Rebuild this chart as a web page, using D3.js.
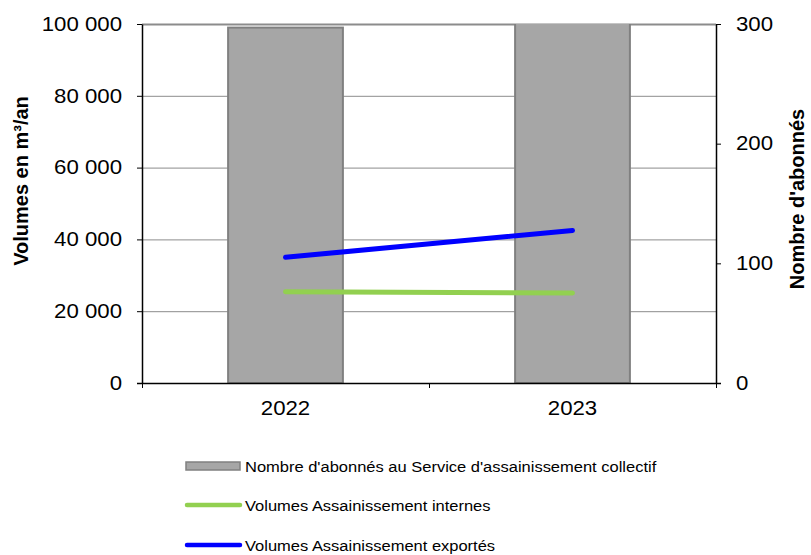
<!DOCTYPE html>
<html>
<head>
<meta charset="utf-8">
<script src="https://cdn.jsdelivr.net/npm/d3@7"></script>
<style>
  html, body { margin: 0; padding: 0; background: #fff; }
  svg { display: block; font-family: "Liberation Sans", Arial, sans-serif; }
</style>
</head>
<body>
<svg id="chart" width="811" height="555"></svg>
<script>
// Years on the category axis
const years = ["2022", "2023"];
// Subscribers to the collective sanitation service (right axis)
const subscribers = [297, 305];
// Internal sanitation volumes, m³/year (left axis)
const internalVolumes = [25400, 25100];
// Exported sanitation volumes, m³/year (left axis)
const exportedVolumes = [35000, 42500];
// Tick values
const leftTicks = [0, 20000, 40000, 60000, 80000, 100000];
const rightTicks = [0, 100, 200, 300];
// Legend entries
const legendLabels = [
  "Nombre d'abonnés au Service d'assainissement collectif",
  "Volumes Assainissement internes",
  "Volumes Assainissement exportés"
];

const svg = d3.select("#chart");
const plot = { left: 142, right: 716, top: 24, bottom: 383 };
const stretch = 1.14;

const x = d3.scaleBand().domain(years).range([plot.left, plot.right])
  .paddingInner(0.6).paddingOuter(0.3);
const xEdges = d3.scaleLinear().domain([0, years.length]).range([plot.left, plot.right]);
const yLeft = d3.scaleLinear().domain([0, 100000]).range([plot.bottom, plot.top]);
const yRight = d3.scaleLinear().domain([0, 300]).range([plot.bottom, plot.top]);

const fmt = v => d3.format(",")(v).replace(/,/g, " ");

// Horizontal gridlines
svg.append("g")
  .selectAll("line").data(leftTicks.slice(1)).join("line")
  .attr("x1", plot.left).attr("x2", plot.right)
  .attr("y1", d => yLeft(d) + 0.5).attr("y2", d => yLeft(d) + 0.5)
  .attr("stroke", "#8c8c8c")
  .attr("stroke-width", (d, i, n) => i === n.length - 1 ? 2 : 1);

// Clip region for the plot area
svg.append("clipPath").attr("id", "plotClip")
  .append("rect")
  .attr("x", plot.left).attr("y", plot.top)
  .attr("width", plot.right - plot.left).attr("height", plot.bottom - plot.top);

// Subscriber bars
svg.append("g").attr("clip-path", "url(#plotClip)")
  .selectAll("rect").data(years).join("rect")
  .attr("x", d => x(d))
  .attr("y", (d, i) => yRight(subscribers[i]))
  .attr("width", x.bandwidth())
  .attr("height", (d, i) => plot.bottom - yRight(subscribers[i]))
  .attr("fill", "#a6a6a6")
  .attr("stroke", "#808080")
  .attr("stroke-width", 2);

// Volume lines
const lineGen = d3.line()
  .x((d, i) => x(years[i]) + x.bandwidth() / 2)
  .y(d => yLeft(d));

svg.append("path").datum(internalVolumes)
  .attr("d", lineGen)
  .attr("fill", "none").attr("stroke", "#92d050")
  .attr("stroke-width", 5).attr("stroke-linecap", "round");

svg.append("path").datum(exportedVolumes)
  .attr("d", lineGen)
  .attr("fill", "none").attr("stroke", "#0000ff")
  .attr("stroke-width", 5).attr("stroke-linecap", "round");

// Axes
function styleAxis(g) {
  g.select(".domain").attr("stroke", "#000").attr("stroke-width", 1.5);
  g.selectAll(".tick line").attr("stroke", "#000");
  g.selectAll(".tick text")
    .attr("fill", "#000")
    .attr("font-size", "19.5px")
    .attr("font-family", "'Liberation Sans', Arial, sans-serif");
}

const leftAxis = svg.append("g")
  .attr("transform", `translate(${plot.left},0)`)
  .call(d3.axisLeft(yLeft).tickValues(leftTicks).tickFormat(fmt).tickSize(5).tickSizeOuter(0));
styleAxis(leftAxis);
leftAxis.selectAll(".tick text")
  .attr("x", null)
  .attr("transform", `translate(-20,0) scale(${stretch},1)`);

const rightAxis = svg.append("g")
  .attr("transform", `translate(${plot.right},0)`)
  .call(d3.axisRight(yRight).tickValues(rightTicks).tickSize(5).tickSizeOuter(0));
styleAxis(rightAxis);
rightAxis.selectAll(".tick text")
  .attr("x", null)
  .attr("transform", `translate(20,0) scale(${stretch},1)`);

// Bottom axis: tick marks at category boundaries
const bottomTicks = svg.append("g")
  .attr("transform", `translate(0,${plot.bottom})`)
  .call(d3.axisBottom(xEdges).tickValues(d3.range(years.length + 1)).tickFormat("").tickSize(5).tickSizeOuter(0));
styleAxis(bottomTicks);
bottomTicks.select(".domain").attr("d", `M${plot.left - 5},0.5H${plot.right + 5}`);

// Bottom axis: category labels at band centres
const bottomLabels = svg.append("g")
  .attr("transform", `translate(0,${plot.bottom})`)
  .call(d3.axisBottom(x).tickSize(0).tickPadding(18));
bottomLabels.select(".domain").remove();
styleAxis(bottomLabels);
bottomLabels.selectAll(".tick text")
  .attr("y", null)
  .attr("transform", `translate(0,18) scale(${stretch},1)`);

// Axis titles
svg.append("text")
  .attr("transform", "translate(28,181) rotate(-90)")
  .attr("text-anchor", "middle")
  .attr("font-size", "20px").attr("font-weight", "bold")
  .text("Volumes en m³/an");

svg.append("text")
  .attr("transform", "translate(804,199) rotate(-90)")
  .attr("text-anchor", "middle")
  .attr("font-size", "20px").attr("font-weight", "bold")
  .text("Nombre d'abonnés");

// Legend
const legend = svg.append("g").attr("transform", "translate(186,0)");
const rowY = [466, 505, 545];

legend.append("rect")
  .attr("x", 0).attr("y", rowY[0] - 4).attr("width", 54).attr("height", 8)
  .attr("fill", "#a6a6a6").attr("stroke", "#808080").attr("stroke-width", 1.5);

legend.append("line")
  .attr("x1", 1).attr("x2", 54).attr("y1", rowY[1]).attr("y2", rowY[1])
  .attr("stroke", "#92d050").attr("stroke-width", 4.5).attr("stroke-linecap", "round");

legend.append("line")
  .attr("x1", 1).attr("x2", 54).attr("y1", rowY[2]).attr("y2", rowY[2])
  .attr("stroke", "#0000ff").attr("stroke-width", 4.5).attr("stroke-linecap", "round");

legend.selectAll("text.lbl").data(legendLabels).join("text")
  .attr("class", "lbl")
  .attr("transform", (d, i) => `translate(59,${rowY[i] + 5.5}) scale(1.1,1)`)
  .attr("font-size", "15px")
  .attr("fill", "#000")
  .text(d => d);
</script>
</body>
</html>
